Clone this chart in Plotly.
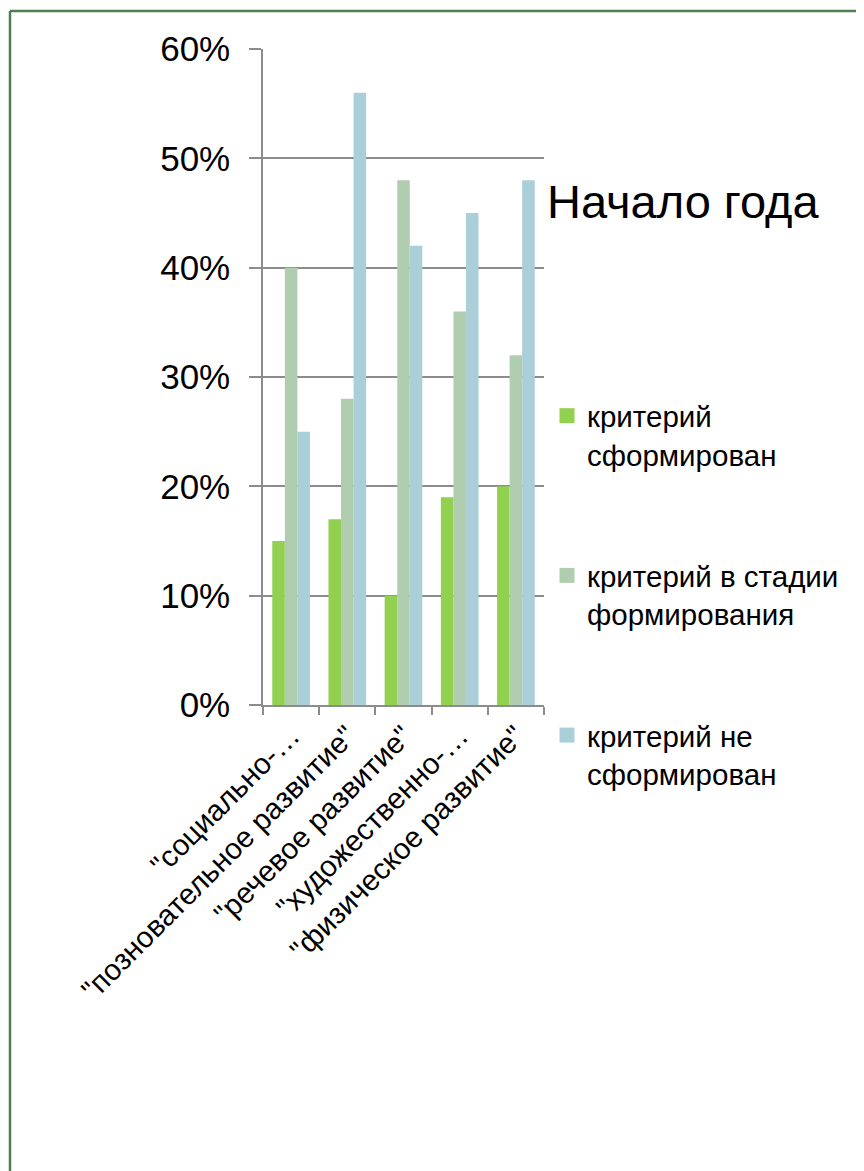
import plotly.graph_objects as go

categories = ['"социально-…', '"позновательное развитие"', '"речевое развитие"',
              '"художественно-…', '"физическое развитие"']
series_names = ["критерий<br>сформирован", "критерий в стадии<br>формирования",
                "критерий не<br>сформирован"]
formed = [0.15, 0.17, 0.10, 0.19, 0.20]
in_progress = [0.40, 0.28, 0.48, 0.36, 0.32]
not_formed = [0.25, 0.56, 0.42, 0.45, 0.48]
colors = ["#92D050", "#B0CDB0", "#AACFD9"]
title_text = "Начало года"

OFF = 8  # page body margin
W, H = 864 - OFF, 1171 - OFF
# target page-pixel positions of plot area
PX0, PX1, PY0, PY1 = 263, 544, 49, 705
L, T = PX0 - OFF, PY0 - OFF
pw, ph = PX1 - PX0, PY1 - PY0
R, B = W - L - pw, H - T - ph

def px(x):  # page pixel -> paper x
    return (x - PX0) / pw

def py(y):  # page pixel -> paper y
    return (PY1 - y) / ph

font = "Liberation Sans, Arial, sans-serif"
fig = go.Figure()
for i, (name, vals) in enumerate(zip(series_names, [formed, in_progress, not_formed])):
    fig.add_trace(go.Bar(x=categories, y=vals, name=name, marker_color=colors[i],
                         marker_line_width=0, legendgroup=str(i), showlegend=False))
    # legend entry with a larger square swatch (no data drawn)
    fig.add_trace(go.Scatter(x=[None], y=[None], mode="markers", name=name,
                             marker=dict(symbol="square", size=15, color=colors[i]),
                             legendgroup=str(i), showlegend=True, hoverinfo="skip"))

grey = "#8C8C8C"
fig.update_layout(
    width=W, height=H,
    margin=dict(l=L, r=R, t=T, b=B, autoexpand=False),
    paper_bgcolor="white", plot_bgcolor="white",
    barmode="group", bargap=0.33, bargroupgap=0,
    font=dict(family=font, color="black"),
    showlegend=True,
    legend=dict(x=px(547), y=py(390), xanchor="left", yanchor="top",
                font=dict(size=29.5, family=font), tracegroupgap=80,
                valign="top", itemwidth=30, itemsizing="trace",
                bgcolor="rgba(0,0,0,0)"),
    xaxis=dict(type="category", showline=True, linecolor=grey, linewidth=1.5,
               ticks="outside", ticklen=8, tickcolor=grey, tickwidth=1.5,
               tickson="boundaries", tickangle=-45,
               tickfont=dict(size=29.5, family=font), showgrid=False),
    yaxis=dict(range=[0, 0.6], dtick=0.1, tickformat=".0%", showline=True,
               linecolor=grey, linewidth=1.5, ticks="outside", ticklen=12,
               tickcolor=grey, tickwidth=1.5, showgrid=True, gridcolor=grey,
               gridwidth=1.5, zeroline=False, ticklabelstandoff=12,
               tickfont=dict(size=35, family=font)),
    annotations=[dict(text=title_text, xref="paper", yref="paper", x=px(545), y=py(201),
                      xanchor="left", yanchor="middle", showarrow=False,
                      font=dict(size=47, family=font, color="black"))],
    shapes=[
        dict(type="line", xref="paper", yref="paper", x0=px(10), x1=px(880),
             y0=py(11), y1=py(11), line=dict(color="#4F7F50", width=2.5)),
        dict(type="line", xref="paper", yref="paper", x0=px(10), x1=px(10),
             y0=py(11), y1=py(1190), line=dict(color="#4F7F50", width=2.5)),
    ],
)
fig.write_html("out.html")
